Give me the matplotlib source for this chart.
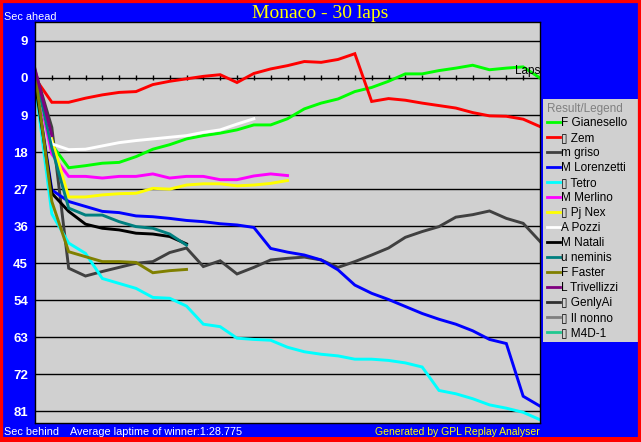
import matplotlib
matplotlib.use("Agg")
import matplotlib.pyplot as plt
from matplotlib.patches import Rectangle

plt.rcParams["font.family"] = ["Liberation Sans", "DejaVu Sans"]

TOTAL_LAPS = 30
Y_TICKS = [-9, 0, 9, 18, 27, 36, 45, 54, 63, 72, 81]

# seconds behind the leader after each lap (negative = ahead), lap 0 first
gianesello = [-0.5, 16.2, 21.8, 21.3, 20.7, 20.5, 19.1, 17.3, 16.2, 14.8, 14.0,
              13.4, 12.6, 11.4, 11.4, 9.9, 7.5, 6.1, 5.1, 3.3, 2.3,
              0.8, -1.0, -1.0, -1.8, -2.4, -3.1, -2.0, -2.4, -2.7, 0.0]
zem = [0.0, 5.9, 5.9, 4.9, 4.1, 3.5, 3.3, 1.6, 0.8, 0.2, -0.4,
       -0.8, 1.1, -1.1, -2.2, -3.0, -4.0, -3.8, -4.5, -5.9, 5.7,
       5.0, 5.4, 6.1, 6.7, 7.3, 8.4, 9.2, 9.3, 10.0, 11.8]
griso = [-1.8, 12.0, 46.2, 48.1, 47.0, 46.0, 45.0, 44.6, 42.4, 41.3, 45.8,
         44.4, 47.6, 46.0, 44.2, 43.8, 43.5, 44.2, 46.0, 44.6, 43.0,
         41.3, 38.7, 37.3, 36.1, 33.8, 33.2, 32.3, 34.1, 35.3, 39.7]
lorenzetti = [0.5, 27.2, 30.0, 31.2, 32.4, 32.7, 33.5, 33.7, 34.1, 34.6, 34.9,
              35.4, 35.7, 36.3, 41.4, 42.3, 43.0, 44.2, 46.6, 50.3, 52.3,
              53.8, 55.5, 57.2, 58.6, 59.8, 61.4, 63.5, 64.5, 77.3, 79.7]
tetro = [1.2, 33.0, 40.1, 42.6, 48.7, 49.9, 51.1, 53.3, 53.5, 55.4, 59.8,
         60.4, 63.2, 63.5, 63.7, 65.4, 66.5, 67.1, 67.5, 68.3, 68.3,
         68.6, 69.2, 70.2, 75.9, 76.7, 77.9, 79.4, 80.2, 81.2, 83.0]
merlino = [-0.7, 18.5, 23.9, 23.9, 24.3, 23.9, 23.9, 23.3, 24.3, 23.9, 23.9,
           24.7, 24.7, 23.8, 23.3, 23.7]
pj_nex = [-1.0, 15.0, 28.9, 28.9, 28.4, 28.1, 28.0, 26.8, 27.0, 26.0, 25.7,
          25.7, 26.2, 26.0, 25.6, 24.9]
pozzi = [-0.3, 16.0, 17.4, 17.3, 16.5, 15.7, 15.2, 14.8, 14.4, 14.0, 13.2,
         12.6, 11.2, 9.9]
natali = [0.8, 28.0, 32.4, 35.5, 36.5, 36.9, 37.7, 37.9, 38.5, 40.3]
neminis = [-1.2, 17.0, 31.6, 33.3, 33.3, 34.9, 36.1, 36.5, 37.9, 40.6]
faster = [-1.5, 30.0, 42.2, 43.4, 44.6, 44.6, 44.8, 47.3, 46.8, 46.5]
trivellizzi = [-2.2, 14.0]
genlyai = [-1.6]
il_nonno = [-1.9]
m4d1 = [-1.4]

DRIVERS = [
    ("F Gianesello", "#00ff00", gianesello),
    ("\u25af Zem", "#ff0000", zem),
    ("m griso", "#404040", griso),
    ("M Lorenzetti", "#0000ff", lorenzetti),
    ("\u25af Tetro", "#00ffff", tetro),
    ("M Merlino", "#ff00ff", merlino),
    ("\u25af Pj Nex", "#ffff00", pj_nex),
    ("A Pozzi", "#ffffff", pozzi),
    ("M Natali", "#000000", natali),
    ("u neminis", "#008080", neminis),
    ("F Faster", "#808000", faster),
    ("L Trivellizzi", "#800080", trivellizzi),
    ("\u25af GenlyAi", "#303030", genlyai),
    ("\u25af Il nonno", "#808080", il_nonno),
    ("\u25af M4D-1", "#20c890", m4d1),
]

W, H = 641, 442
fig = plt.figure(figsize=(W / 100, H / 100), dpi=100)
fig.patch.set_facecolor("#0000ff")
fig.patches.append(Rectangle((0, 0), 1, 1, transform=fig.transFigure, fill=False,
                             edgecolor="#ff0000", linewidth=4.5, zorder=10))
fig.patches.append(Rectangle((0, 0), 1, 5 / H, transform=fig.transFigure,
                             facecolor="#ff0000", edgecolor="none", zorder=10))

ax = fig.add_axes([35 / W, (H - 423) / H, 505 / W, 401 / H])
ax.set_facecolor("#d0d0d0")

for name, color, gaps in DRIVERS:
    ax.plot(range(len(gaps)), gaps, color=color, lw=2.1, label=name,
            solid_joinstyle="miter")

ax.set_xlim(0, TOTAL_LAPS)
ax.set_ylim(83.8, -13.6)
ax.set_xticks([])
ax.set_yticks(Y_TICKS)
ax.set_yticklabels([str(abs(v)) for v in Y_TICKS], fontweight="bold",
                   fontsize=9.5, color="white")
ax.tick_params(axis="y", length=0, pad=5)
ax.yaxis.grid(True, color="black", lw=1)
ax.set_axisbelow(True)
for sp in ax.spines.values():
    sp.set_color("black")
    sp.set_linewidth(1)

# lap marks on the zero line
ax.vlines(range(1, TOTAL_LAPS), -0.75, 0.5, color="black", lw=1, zorder=1)
ax.text(TOTAL_LAPS, -0.2, "Laps", ha="right", va="bottom", fontsize=8.5,
        color="black")

fig.text(0.5, 1 - 13 / H, "Monaco - 30 laps", ha="center", va="center",
         fontfamily="Liberation Serif", fontsize=14, color="#ffff00")
fig.text(4 / W, 1 - 17 / H, "Sec ahead", ha="left", va="center",
         fontsize=7.8, color="white")
fig.text(4 / W, 1 - 432 / H, "Sec behind", ha="left", va="center",
         fontsize=7.8, color="white")
fig.text(70 / W, 1 - 432 / H, "Average laptime of winner:1:28.775", ha="left",
         va="center", fontsize=7.8, color="white")
fig.text(540 / W, 1 - 432 / H, "Generated by GPL Replay Analyser", ha="right",
         va="center", fontsize=7.5, color="#ffff00")

leg = fig.legend(loc="upper left", bbox_to_anchor=(543 / W, 1 - 345 / H, 95 / W, 246 / H),
                 mode="expand", title="Result/Legend", alignment="left",
                 prop={"family": ["Liberation Sans", "DejaVu Sans"], "size": 8.5},
                 title_fontproperties={"family": "Liberation Sans", "size": 8.5},
                 frameon=True, fancybox=False, framealpha=1, borderaxespad=0,
                 borderpad=0.3, handlelength=1.1, handletextpad=0.15,
                 labelspacing=0.25)
leg.get_frame().set_facecolor("#d0d0d0")
leg.get_frame().set_edgecolor("none")
leg.get_title().set_color("#808080")
for line in leg.get_lines():
    line.set_linewidth(2)

fig.savefig("out.png", dpi=100, facecolor=fig.get_facecolor())
